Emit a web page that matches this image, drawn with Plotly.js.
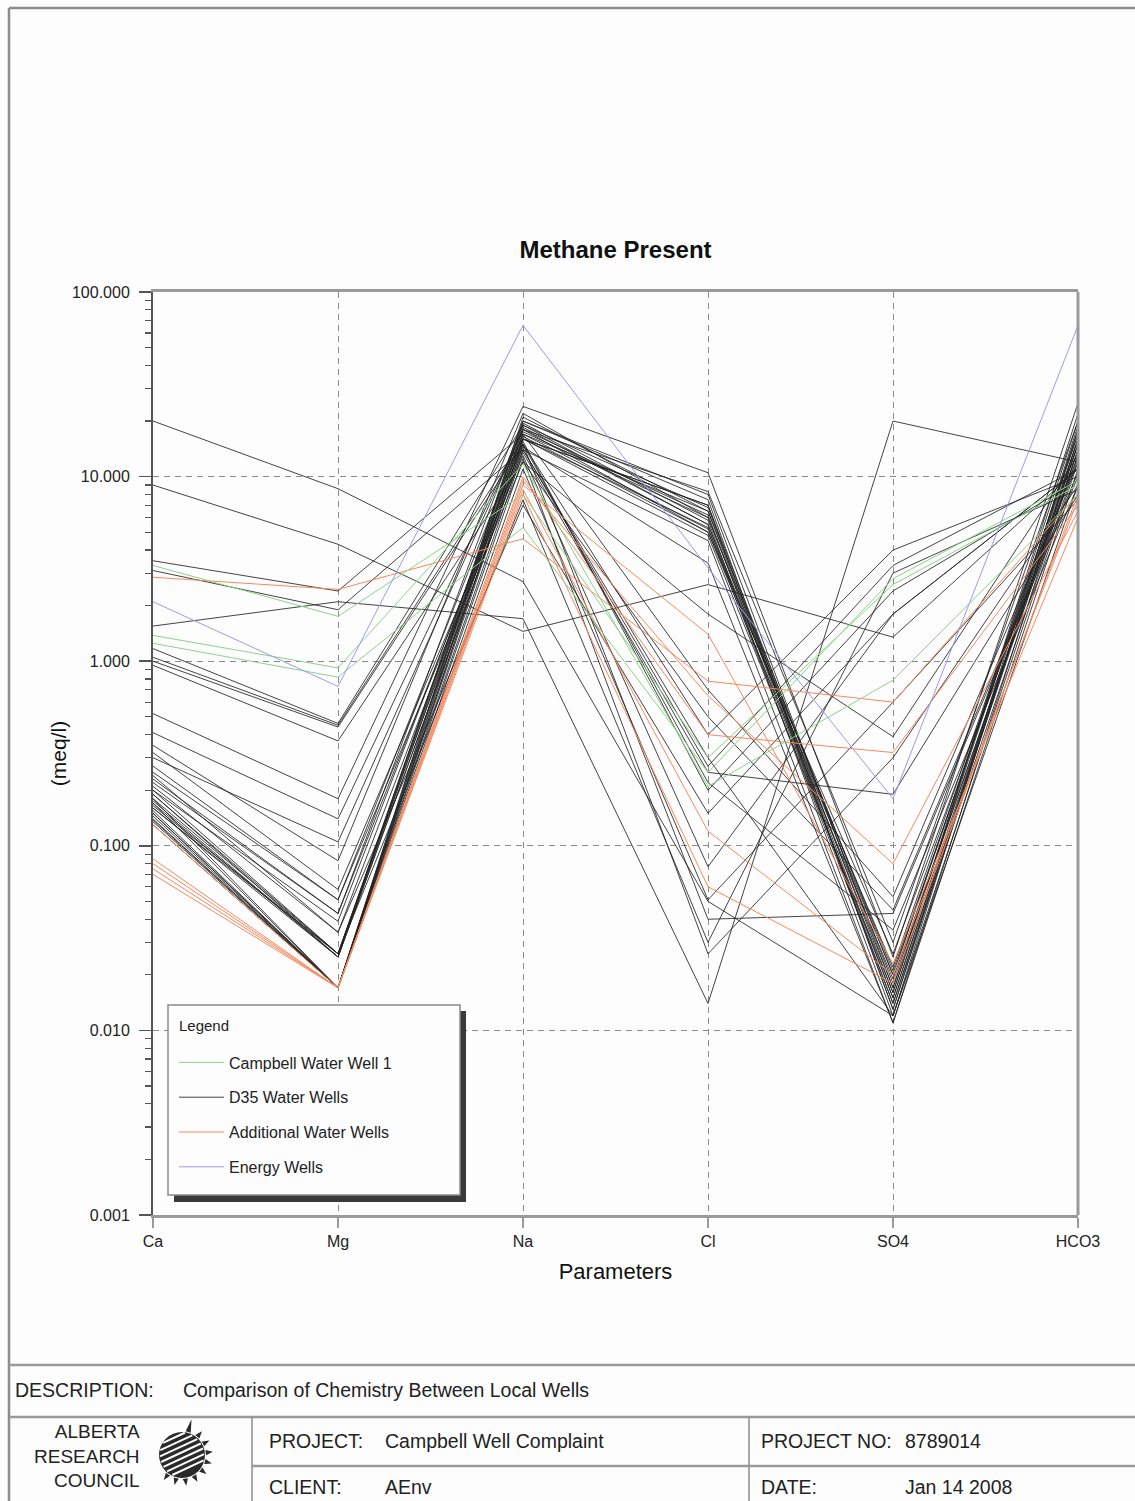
<!DOCTYPE html>
<html><head><meta charset="utf-8">
<script src="https://cdn.plot.ly/plotly-3.0.1.min.js"></script>
<style>html,body{margin:0;padding:0;background:#fdfdfd;}#chart{width:1135px;height:1501px;}</style>
</head><body><div id="chart"></div>
<script>
// ---------------- DATA ----------------
const params = ['Ca', 'Mg', 'Na', 'Cl', 'SO4', 'HCO3'];
const yTickVals = [0.001, 0.01, 0.1, 1, 10, 100];
const yTickText = ['0.001', '0.010', '0.100', '1.000', '10.000', '100.000'];

const groupNames = ['Campbell Water Well 1', 'D35 Water Wells', 'Additional Water Wells', 'Energy Wells'];

// each row: [Ca, Mg, Na, Cl, SO4, HCO3] in meq/l
const campbellWell = [
  [3.3, 1.75, 8.0, 0.30, 2.6, 9.0],
  [1.38, 0.92, 11.7, 0.21, 0.79, 8.0],
  [1.25, 0.82, 5.3, 0.25, 2.8, 9.5]
];
const d35Wells = [
  [20, 8.6, 2.7, 0.05, 0.012, 9],
  [9, 4.3, 1.45, 2.6, 1.35, 11],
  [3.5, 2.4, 17, 6.5, 0.015, 15],
  [3.1, 1.9, 14, 0.27, 3.3, 11],
  [1.55, 2.1, 1.7, 0.014, 20, 12],
  [1.17, 0.46, 19, 5.5, 0.020, 16],
  [1.05, 0.45, 16, 7.0, 0.018, 14],
  [1.0, 0.44, 15, 0.40, 4.0, 10],
  [0.95, 0.37, 12, 1.8, 0.39, 13],
  [0.52, 0.18, 24, 10.5, 0.025, 25],
  [0.41, 0.14, 18, 8.3, 0.030, 20],
  [0.35, 0.083, 22, 6.0, 0.017, 18],
  [0.32, 0.058, 13, 0.077, 1.8, 11],
  [0.27, 0.051, 17, 5.2, 0.022, 17],
  [0.23, 0.043, 20, 7.5, 0.013, 19],
  [0.20, 0.039, 16, 4.8, 0.016, 15],
  [0.21, 0.034, 14.5, 3.4, 0.011, 14],
  [0.19, 0.026, 18, 6.2, 0.014, 16],
  [0.18, 0.026, 15.5, 0.20, 2.4, 9.5],
  [0.175, 0.025, 19.5, 5.8, 0.012, 18],
  [0.17, 0.025, 16.5, 5.0, 0.019, 13],
  [0.165, 0.026, 17, 0.70, 0.053, 12],
  [0.16, 0.025, 14, 4.5, 0.011, 11],
  [0.155, 0.017, 21, 6.5, 0.020, 17],
  [0.15, 0.017, 15, 0.040, 0.043, 10],
  [0.145, 0.017, 18.5, 5.5, 0.015, 14],
  [0.14, 0.017, 13.5, 0.25, 0.19, 8],
  [0.138, 0.017, 16, 7.0, 0.013, 16],
  [0.135, 0.017, 12.5, 0.026, 0.30, 9],
  [0.13, 0.017, 17.5, 6.0, 0.021, 15],
  [0.20, 0.026, 7.5, 0.030, 3.0, 8.5],
  [0.24, 0.034, 7.0, 0.15, 1.8, 11],
  [0.15, 0.017, 11, 0.051, 0.60, 7.5],
  [0.17, 0.017, 20, 8.0, 0.017, 20],
  [0.19, 0.025, 14, 0.30, 0.012, 12],
  [0.30, 0.105, 18, 5.0, 0.026, 13],
  [0.22, 0.043, 15, 0.22, 0.035, 9],
  [0.16, 0.026, 19, 6.8, 0.016, 22],
  [0.25, 0.051, 12, 0.50, 0.045, 10.5],
  [0.18, 0.017, 16, 5.3, 0.014, 12.5]
];
const additionalWells = [
  [2.85, 2.45, 4.6, 0.78, 0.60, 8.0],
  [0.13, 0.017, 10, 0.40, 0.32, 7.0],
  [0.085, 0.017, 9.0, 1.4, 0.023, 6.0],
  [0.08, 0.017, 9.5, 0.65, 0.08, 6.5],
  [0.075, 0.017, 8.5, 0.12, 0.020, 7.5],
  [0.07, 0.017, 8.0, 0.06, 0.018, 8.0]
];
const energyWells = [
  [2.1, 0.73, 66, 3.2, 0.18, 66]
];

// ---------------- STYLE ----------------
const FONT = 'Liberation Sans, Arial, Helvetica, sans-serif';
const colBlack = 'rgba(35,35,35,0.85)';
const colGreen = '#8fd08a';
const colOrange = '#f58a5f';
const colBlue = '#9b9be8';

const L = 153, R = 1078, T = 292, B = 1215;
const P = x => (x - L) / (R - L);
const Q = y => (B - y) / (B - T);

const traces = [];
function addGroup(rows, name, color, rank, width) {
  rows.forEach((row, i) => {
    traces.push({
      type: 'scatter', mode: 'lines', x: params, y: row,
      name: name, legendgroup: name, showlegend: i === 0, legendrank: rank,
      line: { color: color, width: width }, hoverinfo: 'skip'
    });
  });
}
addGroup(d35Wells, groupNames[1], colBlack, 2, 1);
addGroup(additionalWells, groupNames[2], colOrange, 3, 1);
addGroup(campbellWell, groupNames[0], colGreen, 1, 1);
addGroup(energyWells, groupNames[3], colBlue, 4, 1);

const minorVals = [];
for (let e = -3; e <= 1; e++) for (let k = 2; k <= 9; k++) minorVals.push(k * Math.pow(10, e));

const shapes = [];
function seg(x0, y0, x1, y1, color, width) {
  shapes.push({ type: 'line', xref: 'paper', yref: 'paper', x0: P(x0), y0: Q(y0), x1: P(x1), y1: Q(y1), line: { color: color, width: width } });
}
// right plot border
shapes.push({ type: 'line', xref: 'paper', yref: 'paper', x0: 1, x1: 1, y0: 0, y1: 1, line: { color: '#9a9a9a', width: 3 } });
// legend shadow and box
shapes.push({ type: 'rect', xref: 'paper', yref: 'paper', x0: P(174), x1: P(466), y0: Q(1202), y1: Q(1011), fillcolor: '#3a3a3a', line: { width: 0 } });
shapes.push({ type: 'rect', xref: 'paper', yref: 'paper', x0: P(168), x1: P(460), y0: Q(1195), y1: Q(1005), fillcolor: '#fdfdfd', line: { color: '#8a8a8a', width: 1.5 } });
// page frame
seg(9, 8, 1135, 8, '#8c8c8c', 2.5);
seg(9, 8, 9, 1501, '#8c8c8c', 2.5);
// title block
seg(9, 1365, 1135, 1365, '#9a9a9a', 2.5);
seg(9, 1417, 1135, 1417, '#9a9a9a', 2.5);
seg(252, 1466, 1135, 1466, '#9a9a9a', 2.5);
seg(252, 1417, 252, 1501, '#8c8c8c', 1.5);
seg(749, 1417, 749, 1501, '#8c8c8c', 1.5);

// logo sphere
const cx = 182, cy = 1455, r = 23;
shapes.push({ type: 'circle', xref: 'paper', yref: 'paper', x0: P(cx - r), x1: P(cx + r), y0: Q(cy + r), y1: Q(cy - r), fillcolor: '#2a2a2a', line: { width: 0 } });
const ang = -25 * Math.PI / 180;
const ux = Math.cos(ang), uy = Math.sin(ang), nx = -uy, ny = ux;
for (let d = -19; d <= 19; d += 5.5) {
  const h = Math.sqrt(r * r - d * d) - 1;
  const mx = cx + nx * d, my = cy + ny * d;
  seg(mx - ux * h, my - uy * h, mx + ux * h, my + uy * h, '#fdfdfd', 2);
}
[-75, -50, -28, -6, 16, 38, 60, 82, 104, 126].forEach((a) => {
  const t = a * Math.PI / 180, len = (a === -75 ? 14 : 8);
  const tx = cx + Math.cos(t) * (r + len), ty = cy + Math.sin(t) * (r + len);
  const w = 0.11;
  const b1x = cx + Math.cos(t - w) * (r + 1), b1y = cy + Math.sin(t - w) * (r + 1);
  const b2x = cx + Math.cos(t + w) * (r + 1), b2y = cy + Math.sin(t + w) * (r + 1);
  shapes.push({ type: 'path', xref: 'paper', yref: 'paper',
    path: `M ${P(b1x)},${Q(b1y)} L ${P(tx)},${Q(ty)} L ${P(b2x)},${Q(b2y)} Z`,
    fillcolor: '#2a2a2a', line: { width: 0 } });
});

const annotations = [];
function txt(x, y, text, size, anchor, fam, extra) {
  annotations.push(Object.assign({ xref: 'paper', yref: 'paper', x: P(x), y: Q(y), text: text, showarrow: false,
    xanchor: anchor || 'left', yanchor: 'middle', font: { family: fam || FONT, size: size, color: '#222' } }, extra || {}));
}
const BS = 19.5;
txt(13, 1390, 'DESCRIPTION:', BS);
txt(181, 1390, 'Comparison of Chemistry Between Local Wells', BS);
txt(267, 1441, 'PROJECT:', BS);
txt(383, 1441, 'Campbell Well Complaint', BS);
txt(267, 1487, 'CLIENT:', BS);
txt(383, 1487, 'AEnv', BS);
txt(759, 1441, 'PROJECT NO:', BS);
txt(903, 1441, '8789014', BS);
txt(759, 1487, 'DATE:', BS);
txt(903, 1487, 'Jan 14 2008', BS);
txt(142, 1456, 'ALBERTA<br>RESEARCH<br>COUNCIL', 19, 'right', FONT, { align: 'right' });
// legend heading
txt(177, 1025, 'Legend', 15);

const layout = {
  width: 1135, height: 1501,
  margin: { l: L, r: 1135 - R, t: T, b: 1501 - B },
  paper_bgcolor: '#fdfdfd', plot_bgcolor: '#fdfdfd',
  font: { family: FONT, color: '#222' },
  title: { text: '<b>Methane Present</b>', font: { family: FONT, size: 24, color: '#111' },
    x: 0.5, xref: 'paper', xanchor: 'center', y: 1 - 250 / 1501, yref: 'container', yanchor: 'middle' },
  xaxis: {
    type: 'category', range: [0, 5], fixedrange: true,
    showgrid: true, gridcolor: '#8a8a8a', griddash: '6px,5px', gridwidth: 1,
    showline: true, linecolor: '#9a9a9a', linewidth: 3, mirror: true,
    ticks: 'outside', ticklen: 10, tickwidth: 2, tickcolor: '#9a9a9a',
    tickfont: { family: FONT, size: 16, color: '#222' },
    title: { text: 'Parameters', font: { family: FONT, size: 22, color: '#111' }, standoff: 15 },
    zeroline: false
  },
  yaxis: {
    type: 'log', range: [-3, 2], fixedrange: true,
    tickmode: 'array', tickvals: yTickVals, ticktext: yTickText,
    showgrid: true, gridcolor: '#8a8a8a', griddash: '6px,5px', gridwidth: 1,
    showline: true, linecolor: '#555', linewidth: 2,
    ticks: 'outside', ticklen: 12, tickwidth: 1.5, tickcolor: '#555',
    ticklabelstandoff: 6,
    tickfont: { family: FONT, size: 16, color: '#222' },
    minor: { tickmode: 'array', tickvals: minorVals, ticks: 'outside', ticklen: 6, tickwidth: 1.2, tickcolor: '#555', showgrid: false },
    title: { text: '(meq/l)', font: { family: FONT, size: 21, color: '#111' }, standoff: 0 },
    zeroline: false
  },
  showlegend: true,
  legend: {
    x: P(174), y: Q(1045.5), xanchor: 'left', yanchor: 'top',
    bgcolor: 'rgba(0,0,0,0)', borderwidth: 0,
    font: { family: FONT, size: 16, color: '#222' },
    traceorder: 'grouped', tracegroupgap: 11, itemwidth: 45
  },
  shapes: shapes,
  annotations: annotations,
  hovermode: false
};

Plotly.newPlot('chart', traces, layout, { staticPlot: true, displayModeBar: false });
</script></body></html>
